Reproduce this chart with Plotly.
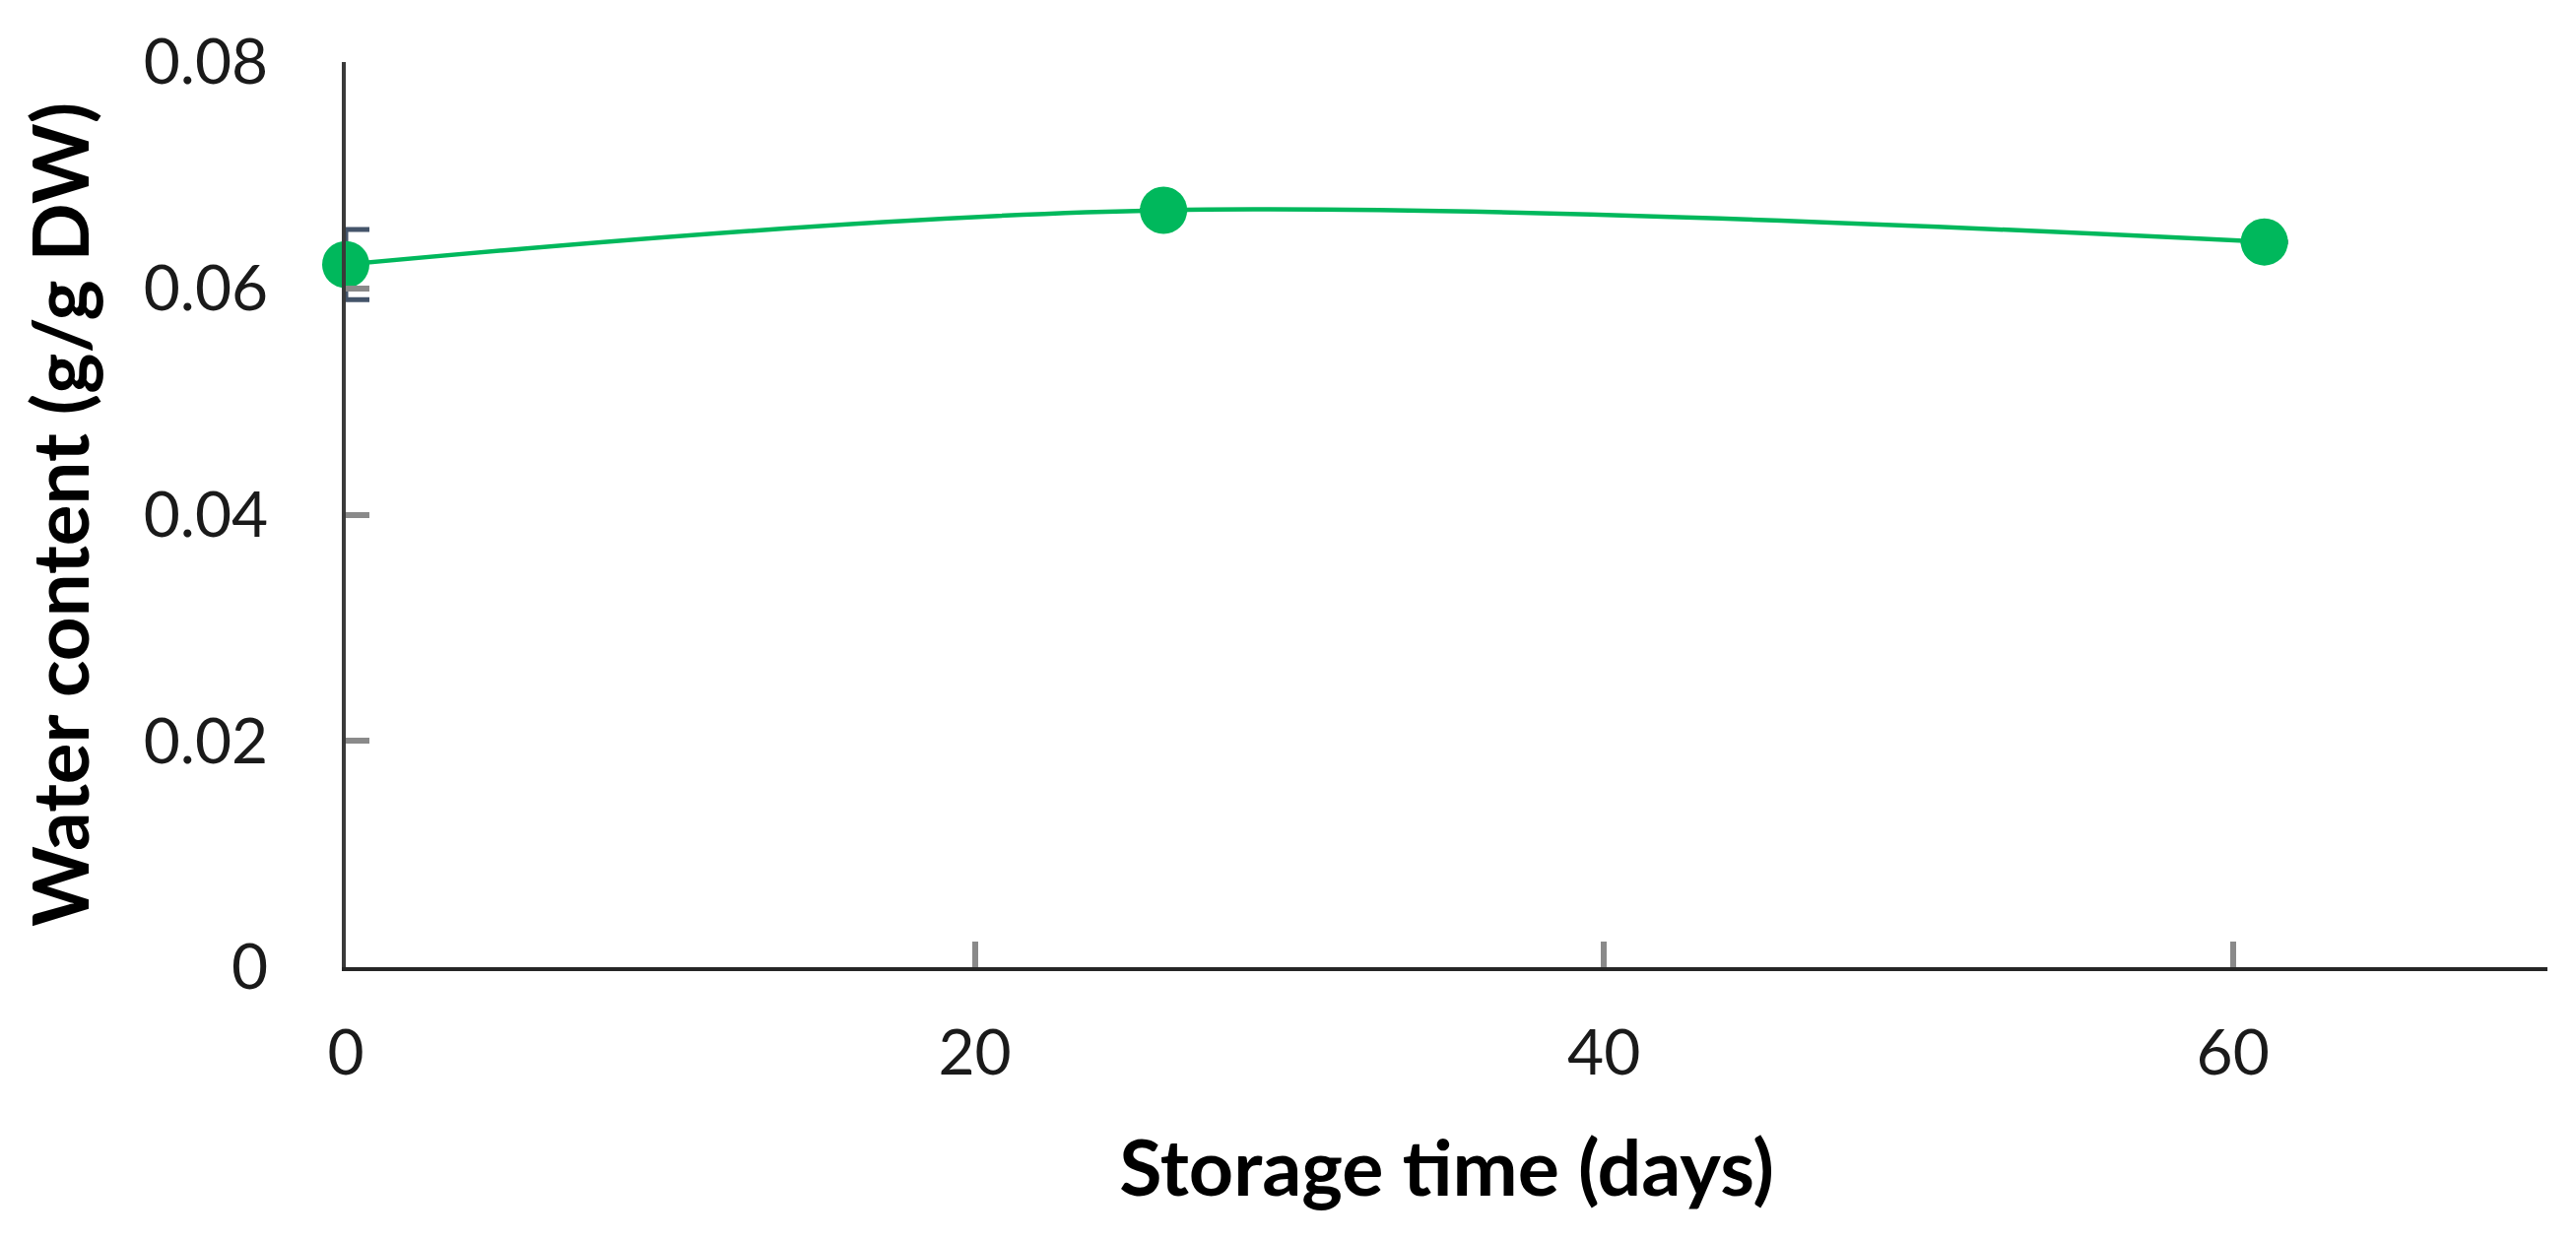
import plotly.graph_objects as go

# Data
storage_days = [0, 26, 61]
water_content = [0.0621, 0.0669, 0.0641]
water_error = [0.0031, 0.0, 0.0]

x_title = "Storage time (days)"
y_title = "Water content (g/g DW)"

fig = go.Figure()
fig.add_trace(go.Scatter(
    x=storage_days,
    y=water_content,
    mode="lines+markers",
    line=dict(color="#00B85C", width=4.5, shape="spline", smoothing=1),
    marker=dict(color="#00B85C", size=48),
    error_y=dict(type="data", array=water_error, visible=True,
                 color="#44546A", thickness=5, width=24),
    showlegend=False,
    cliponaxis=False,
))

fig.update_layout(
    width=2615, height=1259,
    margin=dict(l=343, r=37, t=55, b=285),
    paper_bgcolor="white", plot_bgcolor="white",
    font=dict(family="Lato", color="#1a1a1a"),
)
fig.update_xaxes(
    range=[0, 70], dtick=20, tick0=0, automargin=False,
    showline=True, linecolor="#262626", linewidth=4,
    ticks="inside", ticklen=26, tickwidth=6, tickcolor="#8a8a8a",
    showgrid=False, zeroline=False,
    tickfont=dict(family="Lato", size=64, color="#1a1a1a"),
    ticklabelstandoff=28,
    title=dict(text=x_title, font=dict(family="Lato", size=79, color="black", weight="bold"), standoff=56),
)
fig.update_yaxes(
    range=[0, 0.08], dtick=0.02, tick0=0, automargin=False,
    showline=True, linecolor="#3a3a3a", linewidth=4,
    ticks="inside", ticklen=24, tickwidth=6, tickcolor="#8a8a8a",
    showgrid=False, zeroline=False,
    tickfont=dict(family="Lato", size=64, color="#1a1a1a"),
    ticklabelstandoff=62,
    title=dict(text=y_title, font=dict(family="Lato", size=78, color="black", weight="bold"), standoff=30),
)

fig.write_html("out.html")
